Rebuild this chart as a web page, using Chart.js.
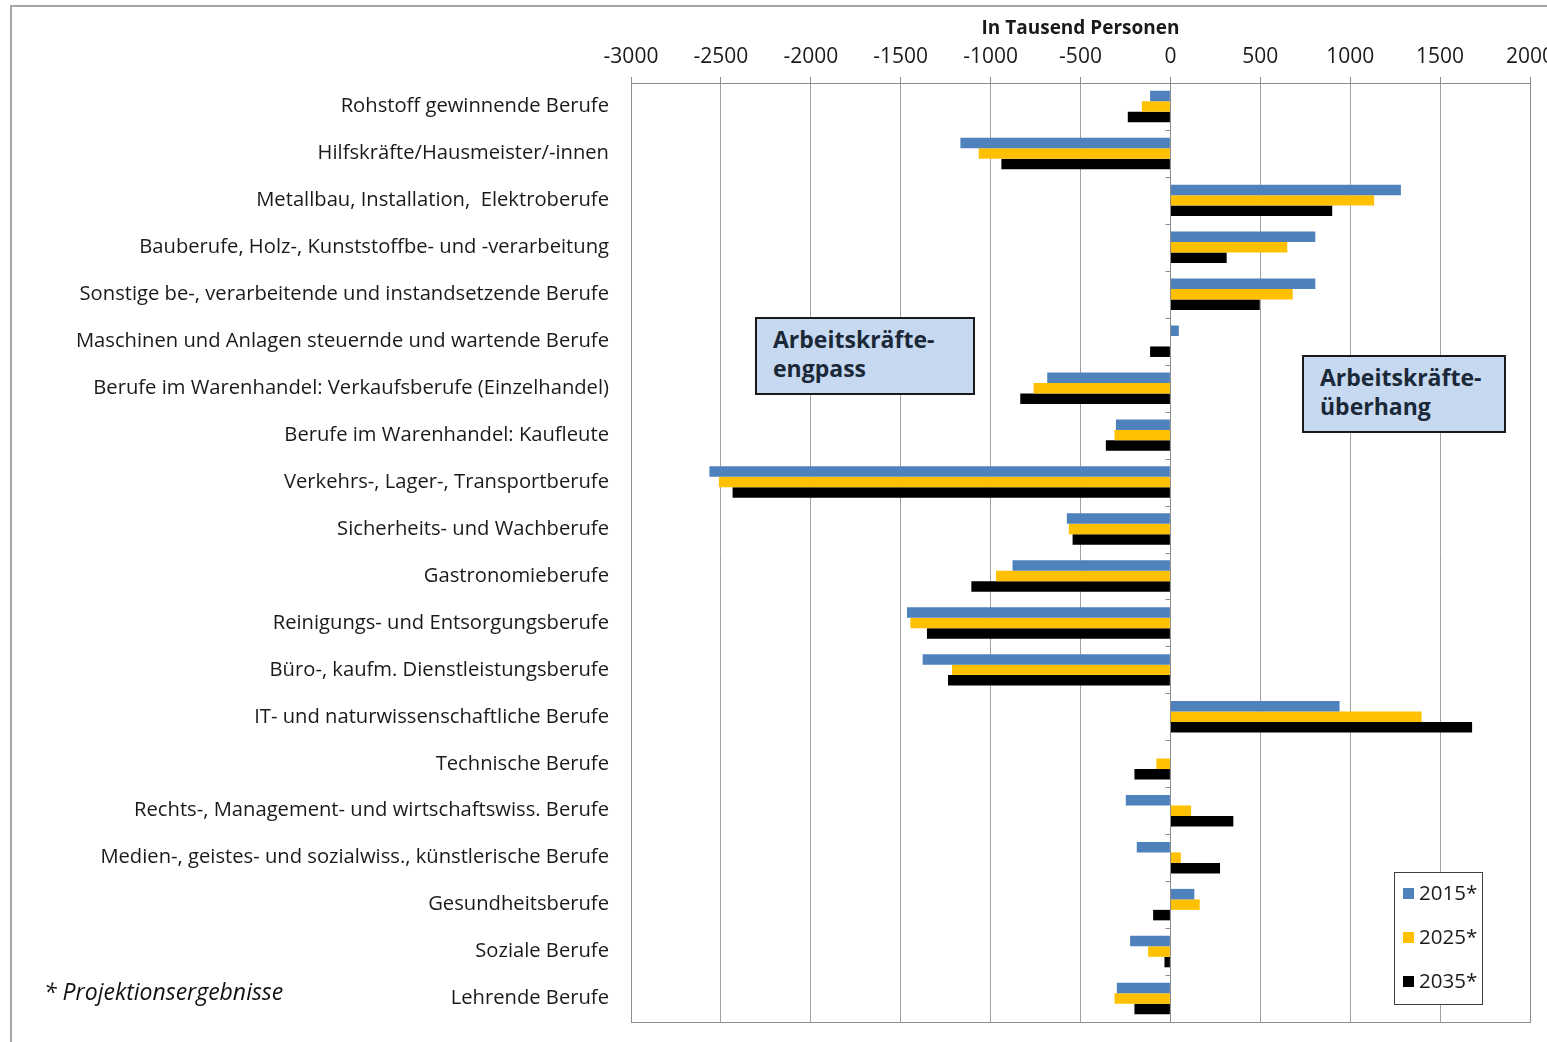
<!DOCTYPE html>
<html>
<head>
<meta charset="utf-8">
<script src="https://cdn.jsdelivr.net/npm/chart.js@4.4.1/dist/chart.umd.min.js"></script>
<style>
  html, body { margin: 0; padding: 0; background: #fff; overflow: hidden; }
  body { width: 1547px; height: 1042px; position: relative; font-family: "Open Sans", Lato, sans-serif; }
  #frame { position: absolute; left: 10px; top: 5px; width: 1600px; height: 1100px;
           border-top: 2px solid #a6a6a6; border-left: 2px solid #a6a6a6; }
  canvas { position: absolute; left: 0; top: 0; }
  .note { position: absolute; background: #c6d9f1; border: 2px solid #1a1a1a; box-sizing: border-box;
          font-weight: bold; font-size: 23px; line-height: 29px; color: #1b2838; padding: 6px 0 0 16px; }
  #foot { position: absolute; left: 44px; top: 975px; font-style: italic; font-size: 23px; color: #111; }
</style>
</head>
<body>
<div id="frame"></div>
<canvas id="c" width="1547" height="1042"></canvas>
<div class="note" style="left:755px;top:317px;width:220px;height:78px;">Arbeitskräfte-<br>engpass</div>
<div class="note" style="left:1302px;top:355px;width:204px;height:78px;">Arbeitskräfte-<br>überhang</div>
<div id="foot">* Projektionsergebnisse</div>
<script>
const categories = [
  "Rohstoff gewinnende Berufe",
  "Hilfskräfte/Hausmeister/-innen",
  "Metallbau, Installation,  Elektroberufe",
  "Bauberufe, Holz-, Kunststoffbe- und -verarbeitung",
  "Sonstige be-, verarbeitende und instandsetzende Berufe",
  "Maschinen und Anlagen steuernde und wartende Berufe",
  "Berufe im Warenhandel: Verkaufsberufe (Einzelhandel)",
  "Berufe im Warenhandel: Kaufleute",
  "Verkehrs-, Lager-, Transportberufe",
  "Sicherheits- und Wachberufe",
  "Gastronomieberufe",
  "Reinigungs- und Entsorgungsberufe",
  "Büro-, kaufm. Dienstleistungsberufe",
  "IT- und naturwissenschaftliche Berufe",
  "Technische Berufe",
  "Rechts-, Management- und wirtschaftswiss. Berufe",
  "Medien-, geistes- und sozialwiss., künstlerische Berufe",
  "Gesundheitsberufe",
  "Soziale Berufe",
  "Lehrende Berufe"
];
const series2015 = [-113, -1168, 1282, 806, 806, 47, -685, -303, -2564, -576, -878, -1465, -1378, 941, 0, -248, -187, 133, -224, -298];
const series2025 = [-159, -1066, 1133, 650, 680, 3, -761, -311, -2511, -565, -970, -1446, -1215, 1397, -78, 115, 58, 163, -124, -311];
const series2035 = [-237, -940, 900, 313, 497, -113, -835, -359, -2435, -544, -1107, -1354, -1237, 1678, -200, 350, 276, -96, -33, -200];
const seriesLabels = ["2015*", "2025*", "2035*"];
const seriesColors = ["#4f81bd", "#ffc000", "#000000"];
const xMin = -3000, xMax = 2000, xStep = 500;
const axisTitle = "In Tausend Personen";

const FONT = "'Open Sans', Lato, sans-serif";

const extras = {
  id: 'extras',
  afterDatasetsDraw(chart) {
    const ctx = chart.ctx, xs = chart.scales.x, ys = chart.scales.y, a = chart.chartArea;
    ctx.save();
    const x0 = Math.round(xs.getPixelForValue(0)) + 0.5;
    ctx.strokeStyle = '#8c8c8c'; ctx.lineWidth = 1;
    ctx.beginPath(); ctx.moveTo(x0, a.top); ctx.lineTo(x0, a.bottom); ctx.stroke();
    for (let i = 0; i <= categories.length; i++) {
      const y = Math.round(ys.getPixelForValue(i - 0.5)) + 0.5;
      ctx.beginPath(); ctx.moveTo(x0 - 5, y); ctx.lineTo(x0, y); ctx.stroke();
    }
    ctx.strokeRect(Math.round(a.left) + 0.5, Math.round(a.top) + 0.5, Math.round(a.right - a.left), Math.round(a.bottom - a.top));
    // legend box
    const lx = 1394, ly = 872, lw = 88, lh = 132;
    ctx.fillStyle = '#fff'; ctx.fillRect(lx, ly, lw, lh);
    ctx.strokeStyle = '#404040'; ctx.lineWidth = 1;
    ctx.strokeRect(lx + 0.5, ly + 0.5, lw, lh);
    ctx.font = "20.5px " + FONT; ctx.textBaseline = 'middle'; ctx.textAlign = 'left';
    chart.data.datasets.forEach((ds, i) => {
      const cy = ly + 21 + i * 44;
      ctx.fillStyle = ds.backgroundColor;
      ctx.fillRect(lx + 9, cy - 5, 11, 11);
      ctx.fillStyle = '#1a1a1a';
      ctx.fillText(ds.label, lx + 25, cy + 1);
    });
    ctx.restore();
  }
};

new Chart(document.getElementById('c'), {
  type: 'bar',
  data: {
    labels: categories,
    datasets: [
      { label: seriesLabels[0], data: series2015, backgroundColor: seriesColors[0] },
      { label: seriesLabels[1], data: series2025, backgroundColor: seriesColors[1] },
      { label: seriesLabels[2], data: series2035, backgroundColor: seriesColors[2] }
    ]
  },
  options: {
    indexAxis: 'y',
    responsive: false,
    animation: false,
    devicePixelRatio: 1,
    layout: { padding: { left: 0, right: 17, top: 0, bottom: 20 } },
    datasets: { bar: { categoryPercentage: 0.67, barPercentage: 1.0, borderWidth: 0 } },
    plugins: { legend: { display: false }, tooltip: { enabled: false } },
    scales: {
      x: {
        position: 'top',
        min: xMin, max: xMax,
        ticks: { stepSize: xStep, color: '#1a1a1a', font: { family: FONT, size: 21 }, padding: 7, maxRotation: 0,
                 callback: v => String(v) },
        grid: { color: '#a0a0a0', lineWidth: 1, drawTicks: true, tickLength: 6, tickColor: '#8c8c8c' },
        border: { display: false },
        title: { display: true, text: axisTitle, color: '#1a1a1a', font: { family: FONT, size: 19, weight: 'bold' }, padding: { top: 17, bottom: 0 } },
        afterFit(s) { s.height = 83; s.paddingLeft = 0; s.paddingRight = 0; }
      },
      y: {
        ticks: { color: '#1a1a1a', font: { family: FONT, size: 20.2 }, padding: 22, autoSkip: false },
        grid: { display: false, drawTicks: false },
        border: { display: false },
        afterFit(s) { s.width = 631; s.paddingTop = 0; s.paddingBottom = 0; }
      }
    }
  },
  plugins: [extras]
});
</script>
</body>
</html>
